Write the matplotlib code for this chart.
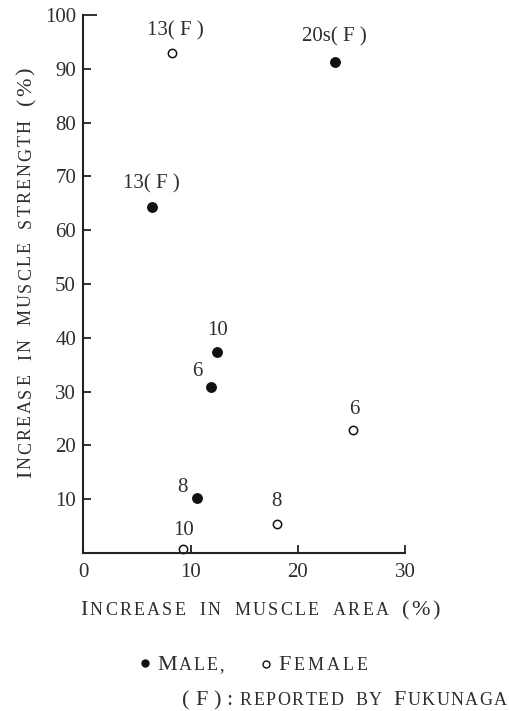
import matplotlib
matplotlib.use("Agg")
import matplotlib.pyplot as plt
from matplotlib.lines import Line2D

SERIF = "Liberation Serif"
plt.rcParams['font.family'] = [SERIF, 'DejaVu Serif']

# ---- data ----
male_x = [6.4, 23.4, 12.5, 11.9, 10.6]
male_y = [64.4, 91.3, 37.3, 30.8, 10.3]
male_labels = ["13( F )", "20s( F )", "10", "6", "8"]
male_offsets_px = [(0, 23), (0, 25), (0, 22), (-14, 16), (-15, 10)]

female_x = [8.25, 25.1, 18.0, 9.3]
female_y = [92.9, 22.9, 5.4, 0.7]
female_labels = ["13( F )", "6", "8", "10"]
female_offsets_px = [(4, 22), (1, 20), (0, 22), (1, 19)]

x_ticks = [0, 10, 20, 30]
y_ticks = [10, 20, 30, 40, 50, 60, 70, 80, 90, 100]

W, H = 510, 711
fig = plt.figure(figsize=(W / 100, H / 100), dpi=100)
ax_left, ax_right = 83, 405.5
ax_top, ax_bottom = 15, 553
ax = fig.add_axes([ax_left / W, (H - ax_bottom) / H,
                   (ax_right - ax_left) / W, (ax_bottom - ax_top) / H])
ax.set_xlim(0, 30)
ax.set_ylim(0, 100)
for s in ["top", "right"]:
    ax.spines[s].set_visible(False)
for s in ["left", "bottom"]:
    ax.spines[s].set_linewidth(1.5)
    ax.spines[s].set_color("#222222")

ax.set_xticks(x_ticks)
ax.set_xticklabels([str(v) for v in x_ticks])
ax.set_yticks(y_ticks)
ax.set_yticklabels([str(v) for v in y_ticks])
ax.tick_params(axis="both", direction="in", length=6, width=1.3,
               colors="#222222", labelsize=15, labelcolor="#2e2e2e")
ax.tick_params(axis="x", pad=7)
ax.tick_params(axis="y", pad=5)
ax.xaxis.get_major_ticks()[0].tick1line.set_visible(False)
ax.yaxis.get_major_ticks()[-1].tick1line.set_markersize(10)

ax.plot(male_x, male_y, "o", color="#111111", markersize=6.8, clip_on=False)
ax.plot(female_x, female_y, "o", markerfacecolor="white", markeredgecolor="#111111",
        markeredgewidth=1.1, markersize=6.0, clip_on=False)

for x, y, lab, (dx, dy) in zip(male_x, male_y, male_labels, male_offsets_px):
    ax.annotate(lab, (x, y), xytext=(dx * 0.72, dy * 0.72), textcoords="offset points",
                ha="center", va="center", fontsize=15, color="#2e2e2e")
for x, y, lab, (dx, dy) in zip(female_x, female_y, female_labels, female_offsets_px):
    ax.annotate(lab, (x, y), xytext=(dx * 0.72, dy * 0.72), textcoords="offset points",
                ha="center", va="center", fontsize=15, color="#2e2e2e")

renderer = fig.canvas.get_renderer()


def place_line(runs, start, end, base, rotation=0, space_px=10, color="#2e2e2e"):
    """Place small-caps style text char by char, spread between start and end (px)."""
    chars = []
    for s, size in runs:
        for ch in s:
            chars.append((ch, size))
    widths = []
    for ch, size in chars:
        if ch == " ":
            widths.append(space_px)
        else:
            t = fig.text(0, 0, ch, fontsize=size)
            widths.append(t.get_window_extent(renderer).width)
            t.remove()
    n = len(chars)
    track = (abs(end - start) - sum(widths)) / max(n - 1, 1)
    pos = start
    for (ch, size), w in zip(chars, widths):
        if ch != " ":
            if rotation == 0:
                fig.text(pos / W, (H - base) / H, ch, fontsize=size, ha="left",
                         va="baseline", color=color)
            else:
                fig.text(base / W, (H - pos) / H, ch, fontsize=size, ha="left",
                         va="baseline", rotation=90, rotation_mode="anchor", color=color)
        pos += (w + track) if rotation == 0 else -(w + track)


BIG, SMALL = 16, 13
# x label
place_line([("I", BIG), ("NCREASE IN MUSCLE AREA ", SMALL), ("(%)", BIG)],
           80, 440, 615, space_px=9)
# y label (rotated, bottom to top)
place_line([("I", BIG), ("NCREASE IN MUSCLE STRENGTH ", SMALL), ("(%)", BIG)],
           478, 68, 31, rotation=90, space_px=10)

# legend line 1
fig.add_artist(Line2D([145 / W], [(H - 663) / H], marker="o", color="#111111",
                      markersize=5, linestyle="none"))
fig.add_artist(Line2D([266 / W], [(H - 664) / H], marker="o", markerfacecolor="white",
                      markeredgecolor="#111111", markeredgewidth=1.0, markersize=5,
                      linestyle="none"))
place_line([("M", BIG), ("ALE,", SMALL)], 157, 224, 670)
place_line([("F", BIG), ("EMALE", SMALL)], 278, 368, 670)
# legend line 2
place_line([("(F):", BIG)], 182, 232, 705)
place_line([("REPORTED BY ", SMALL), ("F", BIG), ("UKUNAGA", SMALL)],
           240, 507, 705, space_px=9)

fig.savefig("out.png", dpi=100, facecolor="white")
